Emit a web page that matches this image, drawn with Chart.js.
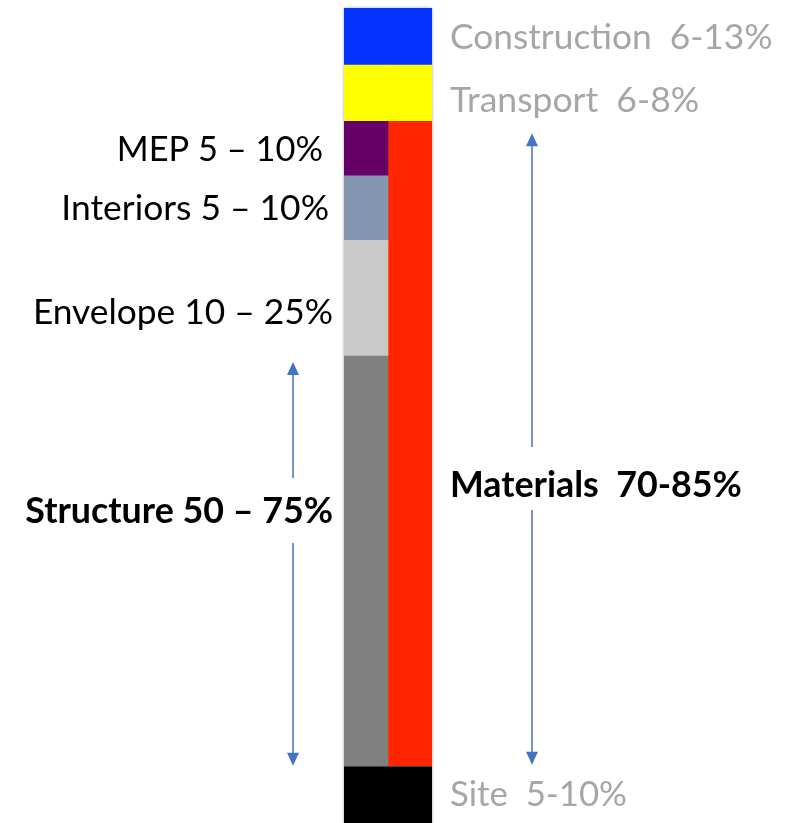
<!DOCTYPE html>
<html>
<head>
<meta charset="utf-8">
<script src="https://cdn.jsdelivr.net/npm/chart.js@4"></script>
<style>
  html, body { margin: 0; padding: 0; background: #ffffff; }
  canvas { display: block; }
</style>
</head>
<body>
<canvas id="barChart" width="802" height="823"></canvas>
<script>
// Deux colonnes : à gauche le détail des matériaux, à droite le total
const categories = ['Détail', 'Total'];

// Valeurs en % de la hauteur de la colonne
const site = [6.9, 6.9];
const structure = [50.4, 0];
const envelope = [14.2, 0];
const interiors = [7.9, 0];
const mep = [6.7, 0];
const materials = [0, 79.2];
const transport = [6.9, 6.9];
const construction = [7.0, 7.0];

const seriesNames = ['Site', 'Structure', 'Envelope', 'Interiors', 'MEP', 'Materials', 'Transport', 'Construction'];
const seriesData = [site, structure, envelope, interiors, mep, materials, transport, construction];
const seriesColors = ['#000000', '#808080', '#C9C9C9', '#8497B0', '#660066', '#FF2600', '#FFFF00', '#0433FF'];

const FONT = 'Lato, "Open Sans", sans-serif';
const GREY = '#A6A6A6';
const ARROW = '#4472C4';

// Libellés : texte, ancre x, alignement, ligne de base, largeur visée
const labels = [
    { text: 'Construction  6-13%', x: 450, align: 'left', y: 49, w: 323, bold: false, color: GREY },
    { text: 'Transport  6-8%', x: 450, align: 'left', y: 112, w: 249, bold: false, color: GREY },
    { text: 'Site  5-10%', x: 450, align: 'left', y: 806, w: 177, bold: false, color: GREY },
    { text: 'MEP 5 \u2013 10%', x: 323, align: 'right', y: 161, w: 206, bold: false, color: '#000000' },
    { text: 'Interiors 5 \u2013 10%', x: 329, align: 'right', y: 220, w: 268, bold: false, color: '#000000' },
    { text: 'Envelope 10 \u2013 25%', x: 333, align: 'right', y: 324, w: 300, bold: false, color: '#000000' },
    { text: 'Structure 50 \u2013 75%', x: 333, align: 'right', y: 523, w: 308, bold: true, color: '#000000' },
    { text: 'Materials  70-85%', x: 450, align: 'left', y: 497, w: 292, bold: true, color: '#000000' }
];

function drawArrowHead(ctx, x, y, dir) {
    ctx.beginPath();
    ctx.moveTo(x, y);
    ctx.lineTo(x - 6, y - dir * 13);
    ctx.lineTo(x + 6, y - dir * 13);
    ctx.closePath();
    ctx.fill();
}

// Flèche verticale interrompue par le libellé
function drawArrow(ctx, x, top, bottom, gapTop, gapBottom) {
    ctx.save();
    ctx.strokeStyle = ARROW;
    ctx.fillStyle = ARROW;
    ctx.lineWidth = 1.5;
    ctx.beginPath();
    ctx.moveTo(x, top + 10);
    ctx.lineTo(x, gapTop);
    ctx.moveTo(x, gapBottom);
    ctx.lineTo(x, bottom - 10);
    ctx.stroke();
    drawArrowHead(ctx, x, top, -1);
    drawArrowHead(ctx, x, bottom, 1);
    ctx.restore();
}

const annotations = {
    id: 'annotations',
    beforeDatasetsDraw(chart) {
        // légère ombre autour de la colonne
        const { ctx, chartArea: a } = chart;
        ctx.save();
        ctx.shadowColor = 'rgba(0,0,0,0.35)';
        ctx.shadowBlur = 3;
        ctx.fillStyle = '#ffffff';
        ctx.fillRect(a.left, a.top, a.right - a.left, a.bottom - a.top + 4);
        ctx.restore();
    },
    afterDraw(chart) {
        const ctx = chart.ctx;
        const y = chart.scales.y;

        labels.forEach(l => {
            const weight = l.bold ? 'bold ' : '';
            ctx.font = weight + '40px ' + FONT;
            const size = 40 * l.w / ctx.measureText(l.text).width;
            ctx.font = weight + size.toFixed(1) + 'px ' + FONT;
            ctx.fillStyle = l.color;
            ctx.textAlign = l.align;
            ctx.textBaseline = 'alphabetic';
            ctx.fillText(l.text, l.x, l.y);
        });

        // bornes des segments via l'échelle
        const siteTop = y.getPixelForValue(site[0]);
        const structTop = y.getPixelForValue(site[0] + structure[0]);
        const matTop = y.getPixelForValue(site[1] + materials[1]);

        drawArrow(ctx, 293, structTop + 6, siteTop - 1, 478, 543);
        drawArrow(ctx, 532, matTop + 12, siteTop - 2, 447, 510);
    }
};

const ctx = document.getElementById('barChart').getContext('2d');

new Chart(ctx, {
    type: 'bar',
    data: {
        labels: categories,
        datasets: seriesNames.map((name, i) => ({
            label: name,
            data: seriesData[i],
            backgroundColor: seriesColors[i],
            borderWidth: 0,
            stack: 'col',
            categoryPercentage: 1,
            barPercentage: 1
        }))
    },
    options: {
        responsive: false,
        animation: false,
        layout: {
            padding: { left: 344, right: 370, top: 8, bottom: 0 }
        },
        scales: {
            x: { stacked: true, display: false },
            y: { stacked: true, display: false, min: 0, max: 100 }
        },
        plugins: {
            legend: { display: false },
            tooltip: { enabled: false }
        }
    },
    plugins: [annotations]
});
</script>
</body>
</html>
